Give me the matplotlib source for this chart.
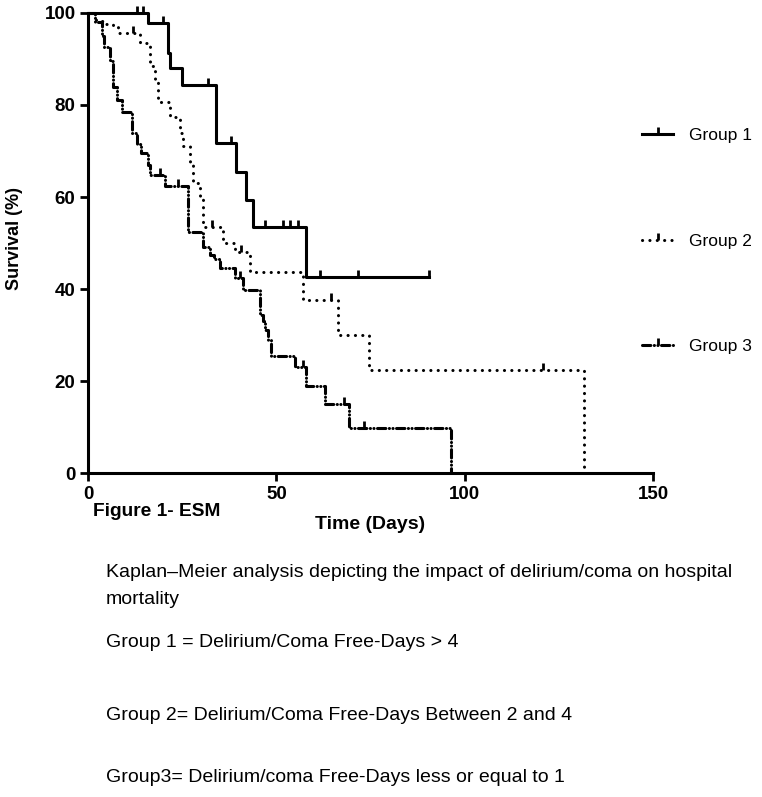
import matplotlib.pyplot as plt
from matplotlib.lines import Line2D

plt.rcParams['font.family'] = ['Liberation Sans', 'DejaVu Sans']
plt.rcParams['lines.scale_dashes'] = False

# Kaplan-Meier steps (day, survival %)
g1_days = [0, 15.9, 21.2, 21.8, 24.9, 34.1, 39.4, 42.0, 43.8, 57.9, 90.6]
g1_surv = [100, 97.8, 91.2, 88.0, 84.3, 71.7, 65.5, 59.3, 53.5, 42.7, 42.7]
g1_cens_days = [12.9, 14.7, 20.0, 31.9, 38.0, 46.9, 51.8, 53.5, 55.7, 61.5, 71.6, 90.6]
g1_cens_surv = [100, 100, 97.8, 84.3, 71.7, 53.5, 53.5, 53.5, 53.5, 42.7, 42.7, 42.7]

g2_days = [0, 2.0, 4.0, 6.7, 8.0, 13.8, 16.4, 17.8, 18.6, 21.7, 24.4, 25.3, 27.0,
           27.9, 29.7, 30.6, 35.8, 39.0, 43.0, 57.0, 66.3, 74.7, 131.7]
g2_surv = [100, 98.3, 97.6, 96.9, 95.6, 93.5, 88.5, 85.2, 80.7, 77.4, 74.0, 71.0, 67.5,
           63.0, 59.6, 53.5, 50.0, 48.0, 43.8, 37.6, 30.0, 22.4, 0]
g2_cens_days = [12.0, 32.8, 40.5, 64.6, 120.7]
g2_cens_surv = [95.6, 53.5, 48.0, 37.6, 22.4]

g3_days = [0, 1.9, 3.6, 4.2, 5.8, 6.7, 7.6, 8.9, 11.6, 12.9, 14.2, 16.0, 16.4, 20.4,
           26.6, 30.6, 32.3, 33.5, 35.0, 39.0, 41.2, 45.6, 46.5, 46.9, 47.8, 48.7,
           55.0, 57.9, 62.8, 69.4, 96.4]
g3_surv = [100, 98.0, 95.0, 92.5, 89.5, 84.0, 81.0, 78.5, 74.0, 71.5, 69.5, 67.0, 64.8, 62.5,
           52.5, 49.2, 47.5, 46.5, 44.6, 42.4, 39.7, 34.3, 33.0, 31.0, 29.0, 25.5,
           23.0, 18.9, 15.0, 9.8, 0]
g3_cens_days = [19.0, 24.0, 40.3, 57.0, 68.0, 73.4]
g3_cens_surv = [64.8, 62.5, 42.4, 23.0, 15.0, 9.8]

labels = ['Group 1', 'Group 2', 'Group 3']
styles = ['-', (0, (0.1, 5.2)), (0, (6, 2.5, 0.1, 2.5, 0.1, 2.5))]

fig = plt.figure(figsize=(7.62, 7.97), dpi=100)
ax = fig.add_axes([0.1155, 0.4065, 0.7415, 0.5772])

groups = [(g1_days, g1_surv, g1_cens_days, g1_cens_surv),
          (g2_days, g2_surv, g2_cens_days, g2_cens_surv),
          (g3_days, g3_surv, g3_cens_days, g3_cens_surv)]

handles = []
for (d, s, cd, cs), ls, lab in zip(groups, styles, labels):
    cap = 'butt' if ls == '-' else 'round'
    ax.step(d, s, where='post', color='black', lw=2.2, linestyle=ls,
            dash_capstyle=cap, clip_on=False)
    ax.plot(cd, cs, linestyle='none', marker=2, ms=5, mew=2, color='black', clip_on=False)
    handles.append(Line2D([], [], color='black', lw=2.2, linestyle=ls, dash_capstyle=cap,
                          marker=2, ms=5, mew=2, markevery=[1]))

ax.set_xlim(0, 150)
ax.set_ylim(0, 100)
ax.set_xticks([0, 50, 100, 150])
ax.set_yticks([0, 20, 40, 60, 80, 100])
for side in ['top', 'right']:
    ax.spines[side].set_visible(False)
for side in ['left', 'bottom']:
    ax.spines[side].set_linewidth(2.2)
ax.tick_params(width=2, length=6, labelsize=13.5, pad=3)
for t in ax.get_xticklabels() + ax.get_yticklabels():
    t.set_fontweight('bold')

ax.set_xlabel('Time (Days)', fontsize=14, fontweight='bold', labelpad=10)
fig.text(15 / 762, 1 - 238 / 797, 'Survival (%)', rotation=90, fontsize=13,
         fontweight='bold', ha='center', va='center')

leg = fig.legend(handles, labels, loc='upper left', bbox_to_anchor=(642 / 762, 1 - 128 / 797),
                 frameon=False, fontsize=12.5, labelspacing=5.2, handlelength=1.8,
                 handletextpad=0.9, borderpad=0, borderaxespad=0)

fig.text(93 / 762, 1 - 512 / 797, 'Figure 1- ESM', fontsize=13.8, fontweight='bold', va='center')

caption = [('Kaplan\u2013Meier analysis depicting the impact of delirium/coma on hospital', 577),
           ('mortality', 604),
           ('Group 1 = Delirium/Coma Free-Days > 4', 647),
           ('Group 2= Delirium/Coma Free-Days Between 2 and 4', 720),
           ('Group3= Delirium/coma Free-Days less or equal to 1', 782)]
for txt, y in caption:
    fig.text(106 / 762, 1 - y / 797, txt, fontsize=14, va='baseline')

fig.savefig('out.png', dpi=100)
